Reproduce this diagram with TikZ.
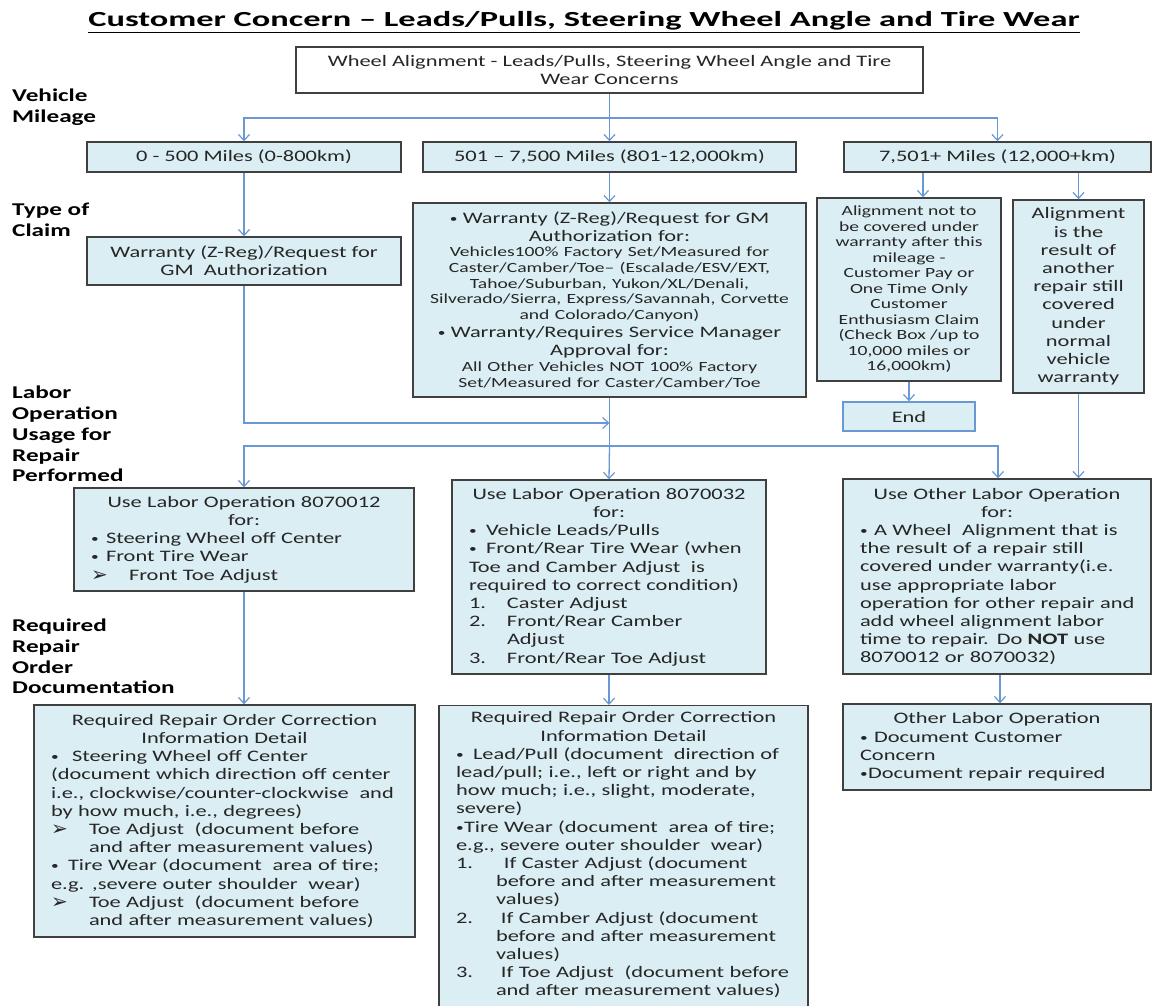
\documentclass[tikz,border=0pt]{standalone}
\usepackage{fontspec}
\setmainfont{Carlito}[FakeStretch=1.4]
\newfontfamily\titlefont{Carlito}[FakeStretch=1.6]
\newfontfamily\dingfont{DejaVu Sans}
\usetikzlibrary{arrows.meta}
\definecolor{boxblue}{HTML}{DAEEF3}
\definecolor{edgegray}{HTML}{404040}
\definecolor{linkblue}{HTML}{6A98D4}
\definecolor{txt}{HTML}{262626}
\setlength{\parindent}{0pt}
\newcommand{\Ln}[1]{\mbox{#1}\par}
\newcommand{\arrowhd}{{\dingfont\fontsize{20}{20}\selectfont\raisebox{-1pt}{➢}}}
\newcommand{\bul}{{\fontsize{11}{11}\selectfont\raisebox{1pt}{•}}}
\newcommand{\lead}[2]{\makebox[#1][l]{#2}}
\begin{document}
\begin{tikzpicture}[x=1pt,y=-1pt,
  box/.style={draw=edgegray, fill=boxblue, line width=1.4pt, text=txt,
    inner xsep=15pt, inner ysep=4pt, font=\fontsize{16}{18.2}\selectfont, align=center},
  listbox/.style={box, align=left, inner xsep=17pt},
  conn/.style={draw=linkblue, line width=1.3pt},
  arr/.style={conn, -{Straight Barb[length=6pt,width=11pt,line width=1.2pt]}},
  lbl/.style={font=\bfseries\fontsize{18}{20.8}\selectfont, align=left, anchor=west, inner sep=0pt, text=black}]
\useasboundingbox (0,0) rectangle (1153,1005);
\clip (0,0) rectangle (1153,1005);
\fill[white] (0,0) rectangle (1153,1005);

% title
\node[font=\titlefont\bfseries\fontsize{21.5}{24}\selectfont, inner sep=0pt] (title) at (584,22)
  {\underline{Customer Concern – Leads/Pulls, Steering Wheel Angle and Tire Wear}};

% side labels
\node[lbl] (lab1) at (12,107.5) {Vehicle\\Mileage};
\node[lbl] (lab2) at (12,220) {Type of\\Claim};
\node[lbl] (lab3) at (12,434) {Labor\\Operation\\Usage for\\Repair\\Performed};
\node[lbl] (lab4) at (12,656.5) {Required\\Repair\\Order\\Documentation};

% top
\node[box, fill=white, minimum width=627pt, minimum height=46pt] (top) at (609.5,70)
  {Wheel Alignment - Leads/Pulls, Steering Wheel Angle and Tire\\Wear Concerns};

% mileage
\node[box, minimum width=314pt, minimum height=30pt] (m1) at (244,157) {0 - 500 Miles (0-800km)};
\node[box, minimum width=373pt, minimum height=30pt] (m2) at (609.5,157) {501 – 7,500 Miles (801-12,000km)};
\node[box, minimum width=307pt, minimum height=30pt] (m3) at (997.5,157) {7,501+ Miles (12,000+km)};

% claim
\node[box, minimum width=314pt, minimum height=48pt] (c1) at (244,261)
  {Warranty (Z-Reg)/Request for\\GM~~Authorization};
\node[box, minimum width=393pt, minimum height=194pt, inner xsep=4pt, text width=385pt] (c2) at (609.5,300)
  {{\fontsize{16}{17.5}\selectfont\Ln{\bul\ Warranty (Z-Reg)/Request for GM}\Ln{Authorization for:}}
   {\fontsize{14}{15.7}\selectfont\Ln{Vehicles100\% Factory Set/Measured for}\Ln{Caster/Camber/Toe– (Escalade/ESV/EXT,}%
     \Ln{Tahoe/Suburban, Yukon/XL/Denali,}\Ln{Silverado/Sierra, Express/Savannah, Corvette}\Ln{and Colorado/Canyon)}}
   {\fontsize{16}{18}\selectfont\Ln{\bul\ Warranty/Requires Service Manager}\Ln{Approval for:}}
   {\fontsize{14}{16}\selectfont\Ln{All Other Vehicles NOT 100\% Factory}\Ln{Set/Measured for Caster/Camber/Toe}}};
\node[box, minimum width=184pt, minimum height=183pt, inner xsep=2pt, font=\fontsize{14}{15.5}\selectfont] (c3) at (909,289.5)
  {Alignment not to\\be covered under\\warranty after this\\mileage -\\Customer Pay or\\One Time Only\\Customer\\Enthusiasm Claim\\(Check Box /up to\\10,000 miles or\\16,000km)};
\node[box, minimum width=131pt, minimum height=193pt, inner xsep=2pt] (c4) at (1078.5,296.5)
  {Alignment\\is the\\result of\\another\\repair still\\covered\\under\\normal\\vehicle\\warranty};
\node[box, draw=linkblue, minimum width=132pt, minimum height=29pt] (end) at (909,416.5) {End};

% labor operations
\node[listbox, minimum width=340pt, minimum height=103pt, text width=306pt] (l1) at (244,539.5)
  {{\centering\Ln{Use Labor Operation 8070012}\Ln{for:}}
   \Ln{\lead{15pt}{\bul}Steering Wheel off Center}
   \Ln{\lead{15pt}{\bul}Front Tire Wear}
   \Ln{\lead{38pt}{\arrowhd}Front Toe Adjust}};
\node[listbox, minimum width=314pt, minimum height=194pt, text width=280pt] (l2) at (609,577)
  {{\centering\Ln{Use Labor Operation 8070032}\Ln{for:}}
   \Ln{\lead{17pt}{\bul}Vehicle Leads/Pulls}
   \Ln{\lead{17pt}{\bul}Front/Rear Tire Wear (when}
   \Ln{Toe and Camber Adjust~ is}
   \Ln{required to correct condition)}
   \Ln{\lead{38pt}{1.}Caster Adjust}
   \Ln{\lead{38pt}{2.}Front/Rear Camber}
   \Ln{\hspace*{38pt}Adjust}
   \Ln{\lead{38pt}{3.}Front/Rear Toe Adjust}};
\node[listbox, minimum width=308pt, minimum height=195pt, text width=274pt] (l3) at (997,576.5)
  {{\centering\Ln{Use Other Labor Operation}\Ln{for:}}
   \Ln{\lead{14pt}{\bul}A Wheel~ Alignment that is}
   \Ln{the result of a repair still}
   \Ln{covered under warranty(i.e.}
   \Ln{use appropriate labor}
   \Ln{operation for other repair and}
   \Ln{add wheel alignment labor}
   \Ln{time to repair. Do \textbf{NOT} use}
   \Ln{8070012 or 8070032)}};

% documentation
\node[listbox, minimum width=381pt, minimum height=232pt, text width=347pt] (r1) at (224.5,821)
  {{\centering\Ln{Required Repair Order Correction}\Ln{Information Detail}}
   \Ln{\lead{21pt}{\bul}Steering Wheel off Center}
   \Ln{(document which direction off center}
   \Ln{i.e., clockwise/counter-clockwise~ and}
   \Ln{by how much, i.e., degrees)}
   \Ln{\lead{38pt}{\arrowhd}Toe Adjust~ (document before}
   \Ln{\hspace*{38pt}and after measurement values)}
   \Ln{\lead{17pt}{\bul}Tire Wear (document~ area of tire;}
   \Ln{e.g. ,severe outer shoulder~ wear)}
   \Ln{\lead{38pt}{\arrowhd}Toe Adjust~ (document before}
   \Ln{\hspace*{38pt}and after measurement values)}};
\node[listbox, anchor=north, inner ysep=6pt, minimum width=369pt, text width=335pt] (r2) at (623.5,705)
  {{\centering\Ln{Required Repair Order Correction}\Ln{Information Detail}}
   \Ln{\lead{17pt}{\bul}Lead/Pull (document~ direction of}
   \Ln{lead/pull; i.e., left or right and by}
   \Ln{how much; i.e., slight, moderate,}
   \Ln{severe)}
   \Ln{\lead{8pt}{\bul}Tire Wear (document~ area of tire;}
   \Ln{e.g., severe outer shoulder~ wear)}
   \Ln{\lead{48pt}{1.}If Caster Adjust (document}
   \Ln{\hspace*{40pt}before and after measurement}
   \Ln{\hspace*{40pt}values)}
   \Ln{\lead{45pt}{2.}If Camber Adjust (document}
   \Ln{\hspace*{40pt}before and after measurement}
   \Ln{\hspace*{40pt}values)}
   \Ln{\lead{45pt}{3.}If Toe Adjust~ (document before}
   \Ln{\hspace*{40pt}and after measurement values)}
   \vspace{20pt}};
\node[listbox, minimum width=308pt, minimum height=86pt, text width=274pt] (r3) at (997,747)
  {{\centering\Ln{Other Labor Operation}}
   \Ln{\lead{14pt}{\bul}Document Customer}
   \Ln{Concern}
   \Ln{\lead{8pt}{\bul}Document repair required}};

% connectors
\coordinate (hub1) at (609.5,118);
\coordinate (xa) at (923,0);
\coordinate (j1) at (609.5,423);
\coordinate (hub2) at (609.5,446);
\coordinate (xb) at (998,0);
\coordinate (xc) at (1000,0);
\draw[conn] (top.south) -- (hub1);
\draw[arr] (hub1) -| (m1.north);
\draw[arr] (hub1) -- (m2.north);
\draw[arr] (hub1) -| (m3.north);
\draw[arr] (m1.south) -- (c1.north);
\draw[arr] (m2.south) -- (c2.north);
\draw[arr] (m3.south -| xa) -- (c3.north -| xa);
\draw[arr] (m3.south -| c4.north) -- (c4.north);
\draw[arr] (c3.south) -- (end.north);
\draw[arr] (c1.south) |- (j1);
\draw[conn] (c2.south) -- (hub2);
\draw[arr] (hub2) -| (l1.north);
\draw[arr] (hub2) -- (l2.north);
\draw[arr] (hub2) -| (l3.north -| xb);
\draw[arr] (c4.south) -- (c4.south |- l3.north);
\draw[arr] (l1.south) -- (l1.south |- r1.north);
\draw[arr] (l2.south) -- (l2.south |- r2.north);
\draw[arr] (l3.south -| xc) -- (r3.north -| xc);
\end{tikzpicture}
\end{document}
